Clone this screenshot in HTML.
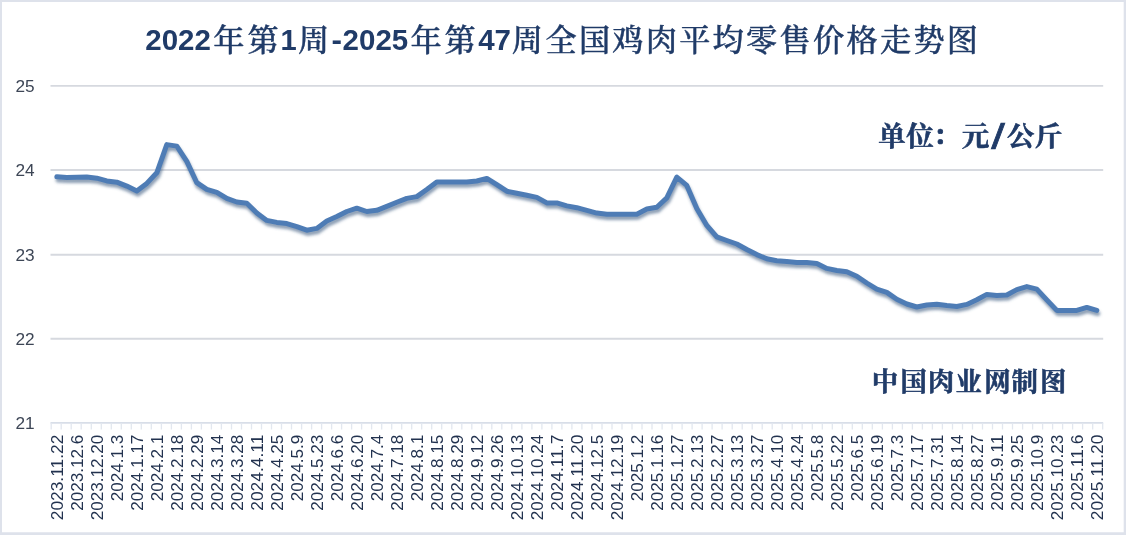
<!DOCTYPE html>
<html lang="zh-CN"><head><meta charset="utf-8"><title>全国鸡肉平均零售价格走势图</title>
<style>
html,body{margin:0;padding:0;background:#fff;}
body{width:1126px;height:535px;overflow:hidden;}
svg{display:block;}
.cjk{font-family:"Liberation Serif","Noto Serif CJK SC",serif;}
.lat{font-family:"Liberation Sans",sans-serif;}
</style></head><body>
<svg width="1126" height="535" viewBox="0 0 1126 535">
<defs>
<filter id="sh" x="-5%" y="-20%" width="110%" height="150%"><feGaussianBlur stdDeviation="1.6"/></filter>
</defs>
<rect x="0" y="0" width="1126" height="535" fill="#ffffff"/>
<path d="M0 0H1126 V535 H0Z M2 1.9 V532.3 H1123.7 V1.9Z" fill="#dee2eb" fill-rule="evenodd"/>
<line x1="50.5" y1="85.90" x2="1103.2" y2="85.90" stroke="#d6d9df" stroke-width="1.9"/>
<line x1="50.5" y1="170.00" x2="1103.2" y2="170.00" stroke="#d6d9df" stroke-width="1.9"/>
<line x1="50.5" y1="254.70" x2="1103.2" y2="254.70" stroke="#d6d9df" stroke-width="1.9"/>
<line x1="50.5" y1="338.80" x2="1103.2" y2="338.80" stroke="#d6d9df" stroke-width="1.9"/>
<line x1="50.5" y1="422.90" x2="1103.2" y2="422.90" stroke="#d8dee8" stroke-width="1.9"/>
<path d="M51.2 422.9V429.4M61.2 422.9V429.4M71.2 422.9V429.4M81.2 422.9V429.4M91.3 422.9V429.4M101.3 422.9V429.4M111.3 422.9V429.4M121.3 422.9V429.4M131.3 422.9V429.4M141.3 422.9V429.4M151.3 422.9V429.4M161.4 422.9V429.4M171.4 422.9V429.4M181.4 422.9V429.4M191.4 422.9V429.4M201.4 422.9V429.4M211.4 422.9V429.4M221.4 422.9V429.4M231.5 422.9V429.4M241.5 422.9V429.4M251.5 422.9V429.4M261.5 422.9V429.4M271.5 422.9V429.4M281.5 422.9V429.4M291.5 422.9V429.4M301.6 422.9V429.4M311.6 422.9V429.4M321.6 422.9V429.4M331.6 422.9V429.4M341.6 422.9V429.4M351.6 422.9V429.4M361.6 422.9V429.4M371.6 422.9V429.4M381.7 422.9V429.4M391.7 422.9V429.4M401.7 422.9V429.4M411.7 422.9V429.4M421.7 422.9V429.4M431.7 422.9V429.4M441.7 422.9V429.4M451.8 422.9V429.4M461.8 422.9V429.4M471.8 422.9V429.4M481.8 422.9V429.4M491.8 422.9V429.4M501.8 422.9V429.4M511.8 422.9V429.4M521.9 422.9V429.4M531.9 422.9V429.4M541.9 422.9V429.4M551.9 422.9V429.4M561.9 422.9V429.4M571.9 422.9V429.4M581.9 422.9V429.4M592.0 422.9V429.4M602.0 422.9V429.4M612.0 422.9V429.4M622.0 422.9V429.4M632.0 422.9V429.4M642.0 422.9V429.4M652.0 422.9V429.4M662.1 422.9V429.4M672.1 422.9V429.4M682.1 422.9V429.4M692.1 422.9V429.4M702.1 422.9V429.4M712.1 422.9V429.4M722.1 422.9V429.4M732.2 422.9V429.4M742.2 422.9V429.4M752.2 422.9V429.4M762.2 422.9V429.4M772.2 422.9V429.4M782.2 422.9V429.4M792.2 422.9V429.4M802.2 422.9V429.4M812.3 422.9V429.4M822.3 422.9V429.4M832.3 422.9V429.4M842.3 422.9V429.4M852.3 422.9V429.4M862.3 422.9V429.4M872.3 422.9V429.4M882.4 422.9V429.4M892.4 422.9V429.4M902.4 422.9V429.4M912.4 422.9V429.4M922.4 422.9V429.4M932.4 422.9V429.4M942.4 422.9V429.4M952.5 422.9V429.4M962.5 422.9V429.4M972.5 422.9V429.4M982.5 422.9V429.4M992.5 422.9V429.4M1002.5 422.9V429.4M1012.5 422.9V429.4M1022.6 422.9V429.4M1032.6 422.9V429.4M1042.6 422.9V429.4M1052.6 422.9V429.4M1062.6 422.9V429.4M1072.6 422.9V429.4M1082.6 422.9V429.4M1092.7 422.9V429.4M1102.7 422.9V429.4" stroke="#e2e7ef" stroke-width="1.3" fill="none"/>
<text class="lat" x="34.6" y="91.75" font-size="16.4" text-anchor="end" fill="#3d4656" textLength="19.2" lengthAdjust="spacingAndGlyphs">25</text>
<text class="lat" x="34.6" y="175.85" font-size="16.4" text-anchor="end" fill="#3d4656" textLength="19.2" lengthAdjust="spacingAndGlyphs">24</text>
<text class="lat" x="34.6" y="260.55" font-size="16.4" text-anchor="end" fill="#3d4656" textLength="19.2" lengthAdjust="spacingAndGlyphs">23</text>
<text class="lat" x="34.6" y="344.65" font-size="16.4" text-anchor="end" fill="#3d4656" textLength="19.2" lengthAdjust="spacingAndGlyphs">22</text>
<text class="lat" x="34.6" y="428.75" font-size="16.4" text-anchor="end" fill="#3d4656" textLength="19.2" lengthAdjust="spacingAndGlyphs">21</text>
<text class="lat" transform="translate(57.30 434.7) rotate(-90)" x="0" y="5.9" font-size="16.6" text-anchor="end" fill="#22324f" textLength="85.5" lengthAdjust="spacingAndGlyphs">2023.11.22</text>
<text class="lat" transform="translate(77.30 434.7) rotate(-90)" x="0" y="5.9" font-size="16.6" text-anchor="end" fill="#22324f" textLength="76.0" lengthAdjust="spacingAndGlyphs">2023.12.6</text>
<text class="lat" transform="translate(97.30 434.7) rotate(-90)" x="0" y="5.9" font-size="16.6" text-anchor="end" fill="#22324f" textLength="85.5" lengthAdjust="spacingAndGlyphs">2023.12.20</text>
<text class="lat" transform="translate(117.30 434.7) rotate(-90)" x="0" y="5.9" font-size="16.6" text-anchor="end" fill="#22324f" textLength="66.5" lengthAdjust="spacingAndGlyphs">2024.1.3</text>
<text class="lat" transform="translate(137.30 434.7) rotate(-90)" x="0" y="5.9" font-size="16.6" text-anchor="end" fill="#22324f" textLength="76.0" lengthAdjust="spacingAndGlyphs">2024.1.17</text>
<text class="lat" transform="translate(157.30 434.7) rotate(-90)" x="0" y="5.9" font-size="16.6" text-anchor="end" fill="#22324f" textLength="66.5" lengthAdjust="spacingAndGlyphs">2024.2.1</text>
<text class="lat" transform="translate(177.30 434.7) rotate(-90)" x="0" y="5.9" font-size="16.6" text-anchor="end" fill="#22324f" textLength="76.0" lengthAdjust="spacingAndGlyphs">2024.2.18</text>
<text class="lat" transform="translate(197.30 434.7) rotate(-90)" x="0" y="5.9" font-size="16.6" text-anchor="end" fill="#22324f" textLength="76.0" lengthAdjust="spacingAndGlyphs">2024.2.29</text>
<text class="lat" transform="translate(217.30 434.7) rotate(-90)" x="0" y="5.9" font-size="16.6" text-anchor="end" fill="#22324f" textLength="76.0" lengthAdjust="spacingAndGlyphs">2024.3.14</text>
<text class="lat" transform="translate(237.30 434.7) rotate(-90)" x="0" y="5.9" font-size="16.6" text-anchor="end" fill="#22324f" textLength="76.0" lengthAdjust="spacingAndGlyphs">2024.3.28</text>
<text class="lat" transform="translate(257.30 434.7) rotate(-90)" x="0" y="5.9" font-size="16.6" text-anchor="end" fill="#22324f" textLength="76.0" lengthAdjust="spacingAndGlyphs">2024.4.11</text>
<text class="lat" transform="translate(277.30 434.7) rotate(-90)" x="0" y="5.9" font-size="16.6" text-anchor="end" fill="#22324f" textLength="76.0" lengthAdjust="spacingAndGlyphs">2024.4.25</text>
<text class="lat" transform="translate(297.30 434.7) rotate(-90)" x="0" y="5.9" font-size="16.6" text-anchor="end" fill="#22324f" textLength="66.5" lengthAdjust="spacingAndGlyphs">2024.5.9</text>
<text class="lat" transform="translate(317.30 434.7) rotate(-90)" x="0" y="5.9" font-size="16.6" text-anchor="end" fill="#22324f" textLength="76.0" lengthAdjust="spacingAndGlyphs">2024.5.23</text>
<text class="lat" transform="translate(337.30 434.7) rotate(-90)" x="0" y="5.9" font-size="16.6" text-anchor="end" fill="#22324f" textLength="66.5" lengthAdjust="spacingAndGlyphs">2024.6.6</text>
<text class="lat" transform="translate(357.30 434.7) rotate(-90)" x="0" y="5.9" font-size="16.6" text-anchor="end" fill="#22324f" textLength="76.0" lengthAdjust="spacingAndGlyphs">2024.6.20</text>
<text class="lat" transform="translate(377.30 434.7) rotate(-90)" x="0" y="5.9" font-size="16.6" text-anchor="end" fill="#22324f" textLength="66.5" lengthAdjust="spacingAndGlyphs">2024.7.4</text>
<text class="lat" transform="translate(397.30 434.7) rotate(-90)" x="0" y="5.9" font-size="16.6" text-anchor="end" fill="#22324f" textLength="76.0" lengthAdjust="spacingAndGlyphs">2024.7.18</text>
<text class="lat" transform="translate(417.30 434.7) rotate(-90)" x="0" y="5.9" font-size="16.6" text-anchor="end" fill="#22324f" textLength="66.5" lengthAdjust="spacingAndGlyphs">2024.8.1</text>
<text class="lat" transform="translate(437.30 434.7) rotate(-90)" x="0" y="5.9" font-size="16.6" text-anchor="end" fill="#22324f" textLength="76.0" lengthAdjust="spacingAndGlyphs">2024.8.15</text>
<text class="lat" transform="translate(457.30 434.7) rotate(-90)" x="0" y="5.9" font-size="16.6" text-anchor="end" fill="#22324f" textLength="76.0" lengthAdjust="spacingAndGlyphs">2024.8.29</text>
<text class="lat" transform="translate(477.30 434.7) rotate(-90)" x="0" y="5.9" font-size="16.6" text-anchor="end" fill="#22324f" textLength="76.0" lengthAdjust="spacingAndGlyphs">2024.9.12</text>
<text class="lat" transform="translate(497.30 434.7) rotate(-90)" x="0" y="5.9" font-size="16.6" text-anchor="end" fill="#22324f" textLength="76.0" lengthAdjust="spacingAndGlyphs">2024.9.26</text>
<text class="lat" transform="translate(517.30 434.7) rotate(-90)" x="0" y="5.9" font-size="16.6" text-anchor="end" fill="#22324f" textLength="85.5" lengthAdjust="spacingAndGlyphs">2024.10.13</text>
<text class="lat" transform="translate(537.30 434.7) rotate(-90)" x="0" y="5.9" font-size="16.6" text-anchor="end" fill="#22324f" textLength="85.5" lengthAdjust="spacingAndGlyphs">2024.10.24</text>
<text class="lat" transform="translate(557.30 434.7) rotate(-90)" x="0" y="5.9" font-size="16.6" text-anchor="end" fill="#22324f" textLength="76.0" lengthAdjust="spacingAndGlyphs">2024.11.7</text>
<text class="lat" transform="translate(577.30 434.7) rotate(-90)" x="0" y="5.9" font-size="16.6" text-anchor="end" fill="#22324f" textLength="85.5" lengthAdjust="spacingAndGlyphs">2024.11.20</text>
<text class="lat" transform="translate(597.30 434.7) rotate(-90)" x="0" y="5.9" font-size="16.6" text-anchor="end" fill="#22324f" textLength="76.0" lengthAdjust="spacingAndGlyphs">2024.12.5</text>
<text class="lat" transform="translate(617.30 434.7) rotate(-90)" x="0" y="5.9" font-size="16.6" text-anchor="end" fill="#22324f" textLength="85.5" lengthAdjust="spacingAndGlyphs">2024.12.19</text>
<text class="lat" transform="translate(637.30 434.7) rotate(-90)" x="0" y="5.9" font-size="16.6" text-anchor="end" fill="#22324f" textLength="66.5" lengthAdjust="spacingAndGlyphs">2025.1.2</text>
<text class="lat" transform="translate(657.30 434.7) rotate(-90)" x="0" y="5.9" font-size="16.6" text-anchor="end" fill="#22324f" textLength="76.0" lengthAdjust="spacingAndGlyphs">2025.1.16</text>
<text class="lat" transform="translate(677.30 434.7) rotate(-90)" x="0" y="5.9" font-size="16.6" text-anchor="end" fill="#22324f" textLength="76.0" lengthAdjust="spacingAndGlyphs">2025.1.27</text>
<text class="lat" transform="translate(697.30 434.7) rotate(-90)" x="0" y="5.9" font-size="16.6" text-anchor="end" fill="#22324f" textLength="76.0" lengthAdjust="spacingAndGlyphs">2025.2.13</text>
<text class="lat" transform="translate(717.30 434.7) rotate(-90)" x="0" y="5.9" font-size="16.6" text-anchor="end" fill="#22324f" textLength="76.0" lengthAdjust="spacingAndGlyphs">2025.2.27</text>
<text class="lat" transform="translate(737.30 434.7) rotate(-90)" x="0" y="5.9" font-size="16.6" text-anchor="end" fill="#22324f" textLength="76.0" lengthAdjust="spacingAndGlyphs">2025.3.13</text>
<text class="lat" transform="translate(757.30 434.7) rotate(-90)" x="0" y="5.9" font-size="16.6" text-anchor="end" fill="#22324f" textLength="76.0" lengthAdjust="spacingAndGlyphs">2025.3.27</text>
<text class="lat" transform="translate(777.30 434.7) rotate(-90)" x="0" y="5.9" font-size="16.6" text-anchor="end" fill="#22324f" textLength="76.0" lengthAdjust="spacingAndGlyphs">2025.4.10</text>
<text class="lat" transform="translate(797.30 434.7) rotate(-90)" x="0" y="5.9" font-size="16.6" text-anchor="end" fill="#22324f" textLength="76.0" lengthAdjust="spacingAndGlyphs">2025.4.24</text>
<text class="lat" transform="translate(817.30 434.7) rotate(-90)" x="0" y="5.9" font-size="16.6" text-anchor="end" fill="#22324f" textLength="66.5" lengthAdjust="spacingAndGlyphs">2025.5.8</text>
<text class="lat" transform="translate(837.30 434.7) rotate(-90)" x="0" y="5.9" font-size="16.6" text-anchor="end" fill="#22324f" textLength="76.0" lengthAdjust="spacingAndGlyphs">2025.5.22</text>
<text class="lat" transform="translate(857.30 434.7) rotate(-90)" x="0" y="5.9" font-size="16.6" text-anchor="end" fill="#22324f" textLength="66.5" lengthAdjust="spacingAndGlyphs">2025.6.5</text>
<text class="lat" transform="translate(877.30 434.7) rotate(-90)" x="0" y="5.9" font-size="16.6" text-anchor="end" fill="#22324f" textLength="76.0" lengthAdjust="spacingAndGlyphs">2025.6.19</text>
<text class="lat" transform="translate(897.30 434.7) rotate(-90)" x="0" y="5.9" font-size="16.6" text-anchor="end" fill="#22324f" textLength="66.5" lengthAdjust="spacingAndGlyphs">2025.7.3</text>
<text class="lat" transform="translate(917.30 434.7) rotate(-90)" x="0" y="5.9" font-size="16.6" text-anchor="end" fill="#22324f" textLength="76.0" lengthAdjust="spacingAndGlyphs">2025.7.17</text>
<text class="lat" transform="translate(937.30 434.7) rotate(-90)" x="0" y="5.9" font-size="16.6" text-anchor="end" fill="#22324f" textLength="76.0" lengthAdjust="spacingAndGlyphs">2025.7.31</text>
<text class="lat" transform="translate(957.30 434.7) rotate(-90)" x="0" y="5.9" font-size="16.6" text-anchor="end" fill="#22324f" textLength="76.0" lengthAdjust="spacingAndGlyphs">2025.8.14</text>
<text class="lat" transform="translate(977.30 434.7) rotate(-90)" x="0" y="5.9" font-size="16.6" text-anchor="end" fill="#22324f" textLength="76.0" lengthAdjust="spacingAndGlyphs">2025.8.27</text>
<text class="lat" transform="translate(997.30 434.7) rotate(-90)" x="0" y="5.9" font-size="16.6" text-anchor="end" fill="#22324f" textLength="76.0" lengthAdjust="spacingAndGlyphs">2025.9.11</text>
<text class="lat" transform="translate(1017.30 434.7) rotate(-90)" x="0" y="5.9" font-size="16.6" text-anchor="end" fill="#22324f" textLength="76.0" lengthAdjust="spacingAndGlyphs">2025.9.25</text>
<text class="lat" transform="translate(1037.30 434.7) rotate(-90)" x="0" y="5.9" font-size="16.6" text-anchor="end" fill="#22324f" textLength="76.0" lengthAdjust="spacingAndGlyphs">2025.10.9</text>
<text class="lat" transform="translate(1057.30 434.7) rotate(-90)" x="0" y="5.9" font-size="16.6" text-anchor="end" fill="#22324f" textLength="85.5" lengthAdjust="spacingAndGlyphs">2025.10.23</text>
<text class="lat" transform="translate(1077.30 434.7) rotate(-90)" x="0" y="5.9" font-size="16.6" text-anchor="end" fill="#22324f" textLength="76.0" lengthAdjust="spacingAndGlyphs">2025.11.6</text>
<text class="lat" transform="translate(1097.30 434.7) rotate(-90)" x="0" y="5.9" font-size="16.6" text-anchor="end" fill="#22324f" textLength="85.5" lengthAdjust="spacingAndGlyphs">2025.11.20</text>
<polyline points="56.8,176.8 66.8,177.5 76.8,177.3 86.8,177.1 96.8,178.2 106.8,180.9 116.8,182.2 126.8,186.1 136.8,191.0 146.8,183.4 156.8,172.8 166.8,144.6 176.8,146.1 186.8,161.4 196.8,182.7 206.8,189.4 216.8,192.3 226.8,198.4 236.8,202.0 246.8,203.3 256.8,213.0 266.8,220.4 276.8,222.4 286.8,223.6 296.8,226.6 306.8,230.2 316.8,228.4 326.8,221.0 336.8,216.5 346.8,211.5 356.8,208.2 366.8,211.5 376.8,210.3 386.8,206.4 396.8,202.3 406.8,198.4 416.8,196.6 426.8,189.5 436.8,182.0 446.8,182.0 456.8,182.0 466.8,182.0 476.8,181.0 486.8,178.4 496.8,184.6 506.8,191.2 516.8,193.2 526.8,195.3 536.8,197.4 546.8,202.9 556.8,202.9 566.8,205.9 576.8,207.7 586.8,210.4 596.8,213.1 606.8,214.3 616.8,214.3 626.8,214.3 636.8,214.2 646.8,209.0 656.8,207.3 666.8,197.9 676.8,177.1 686.8,185.4 696.8,208.5 706.8,225.4 716.8,236.9 726.8,240.5 736.8,244.0 746.8,249.5 756.8,254.6 766.8,258.8 776.8,260.8 786.8,261.6 796.8,262.5 806.8,262.5 816.8,263.4 826.8,268.4 836.8,270.5 846.8,271.8 856.8,276.2 866.8,283.0 876.8,289.2 886.8,292.4 896.8,299.3 906.8,304.0 916.8,307.0 926.8,305.0 936.8,304.2 946.8,305.6 956.8,306.5 966.8,304.4 976.8,299.8 986.8,294.4 996.8,295.5 1006.8,295.0 1016.8,289.6 1026.8,286.6 1036.8,289.1 1046.8,299.9 1056.8,310.4 1066.8,310.4 1076.8,310.4 1086.8,307.4 1096.8,310.4" transform="translate(1.1 3.2)" fill="none" stroke="#3d5a80" stroke-opacity="0.6" stroke-width="4.8" stroke-linejoin="round" stroke-linecap="round" filter="url(#sh)"/>
<polyline points="56.8,176.8 66.8,177.5 76.8,177.3 86.8,177.1 96.8,178.2 106.8,180.9 116.8,182.2 126.8,186.1 136.8,191.0 146.8,183.4 156.8,172.8 166.8,144.6 176.8,146.1 186.8,161.4 196.8,182.7 206.8,189.4 216.8,192.3 226.8,198.4 236.8,202.0 246.8,203.3 256.8,213.0 266.8,220.4 276.8,222.4 286.8,223.6 296.8,226.6 306.8,230.2 316.8,228.4 326.8,221.0 336.8,216.5 346.8,211.5 356.8,208.2 366.8,211.5 376.8,210.3 386.8,206.4 396.8,202.3 406.8,198.4 416.8,196.6 426.8,189.5 436.8,182.0 446.8,182.0 456.8,182.0 466.8,182.0 476.8,181.0 486.8,178.4 496.8,184.6 506.8,191.2 516.8,193.2 526.8,195.3 536.8,197.4 546.8,202.9 556.8,202.9 566.8,205.9 576.8,207.7 586.8,210.4 596.8,213.1 606.8,214.3 616.8,214.3 626.8,214.3 636.8,214.2 646.8,209.0 656.8,207.3 666.8,197.9 676.8,177.1 686.8,185.4 696.8,208.5 706.8,225.4 716.8,236.9 726.8,240.5 736.8,244.0 746.8,249.5 756.8,254.6 766.8,258.8 776.8,260.8 786.8,261.6 796.8,262.5 806.8,262.5 816.8,263.4 826.8,268.4 836.8,270.5 846.8,271.8 856.8,276.2 866.8,283.0 876.8,289.2 886.8,292.4 896.8,299.3 906.8,304.0 916.8,307.0 926.8,305.0 936.8,304.2 946.8,305.6 956.8,306.5 966.8,304.4 976.8,299.8 986.8,294.4 996.8,295.5 1006.8,295.0 1016.8,289.6 1026.8,286.6 1036.8,289.1 1046.8,299.9 1056.8,310.4 1066.8,310.4 1076.8,310.4 1086.8,307.4 1096.8,310.4" fill="none" stroke="#4e7cb5" stroke-width="5.0" stroke-linejoin="round" stroke-linecap="round"/>
<text fill="#203b68"><tspan class="lat" x="145.3" y="50.1" font-size="28.6" font-weight="700" textLength="65.6" lengthAdjust="spacingAndGlyphs">2022</tspan><tspan class="cjk" x="213.2 247.4" y="50.6" font-size="31.2" font-weight="500" stroke="#203b68" stroke-width="0.45" stroke-linejoin="round">年第</tspan><tspan class="lat" x="280.6" y="50.1" font-size="28.6" font-weight="700" textLength="16.2" lengthAdjust="spacingAndGlyphs">1</tspan><tspan class="cjk" x="298.0" y="50.6" font-size="31.2" font-weight="500" stroke="#203b68" stroke-width="0.45" stroke-linejoin="round">周</tspan><tspan class="lat" x="331.6" y="50.1" font-size="28.6" font-weight="700" textLength="10.5" lengthAdjust="spacingAndGlyphs">-</tspan><tspan class="lat" x="342.6" y="50.1" font-size="28.6" font-weight="700" textLength="65.6" lengthAdjust="spacingAndGlyphs">2025</tspan><tspan class="cjk" x="410.5 444.5" y="50.6" font-size="31.2" font-weight="500" stroke="#203b68" stroke-width="0.45" stroke-linejoin="round">年第</tspan><tspan class="lat" x="478.2" y="50.1" font-size="28.6" font-weight="700" textLength="32.8" lengthAdjust="spacingAndGlyphs">47</tspan><tspan class="cjk" x="511.7" y="50.6" font-size="31.2" font-weight="500" stroke="#203b68" stroke-width="0.45" stroke-linejoin="round">周</tspan><tspan class="cjk" x="545.4 578.9 612.3 645.8 679.2 712.6 746.1 779.6 813.0 846.4 879.9 913.4 946.8" y="50.6" font-size="31.2" font-weight="500" stroke="#203b68" stroke-width="0.45" stroke-linejoin="round">全国鸡肉平均零售价格走势图</tspan></text>
<text fill="#203b68"><tspan class="cjk" x="878.2 906.3" y="145.9" font-size="27.5" font-weight="700" stroke="#203b68" stroke-width="0.60" stroke-linejoin="round">单位</tspan><tspan class="cjk" x="933.0" y="145.4" font-size="27.5" font-weight="700" stroke="#203b68" stroke-width="0.60" stroke-linejoin="round">：</tspan><tspan class="cjk" x="961.8" y="145.9" font-size="27.5" font-weight="700" stroke="#203b68" stroke-width="0.60" stroke-linejoin="round">元</tspan><tspan class="lat" x="991.2" y="148.9" font-size="35" font-weight="400" stroke="#203b68" stroke-width="0.7" textLength="13.6" lengthAdjust="spacingAndGlyphs">/</tspan><tspan class="cjk" x="1006.9 1034.8" y="145.9" font-size="27.5" font-weight="700" stroke="#203b68" stroke-width="0.60" stroke-linejoin="round">公斤</tspan></text>
<text fill="#203b68"><tspan class="cjk" x="871.7 900.6 927.7 955.6 984.3 1011.4 1040.1" y="391.3" font-size="26.4" font-weight="700" stroke="#203b68" stroke-width="0.55" stroke-linejoin="round">中国肉业网制图</tspan></text>
</svg>
</body></html>
